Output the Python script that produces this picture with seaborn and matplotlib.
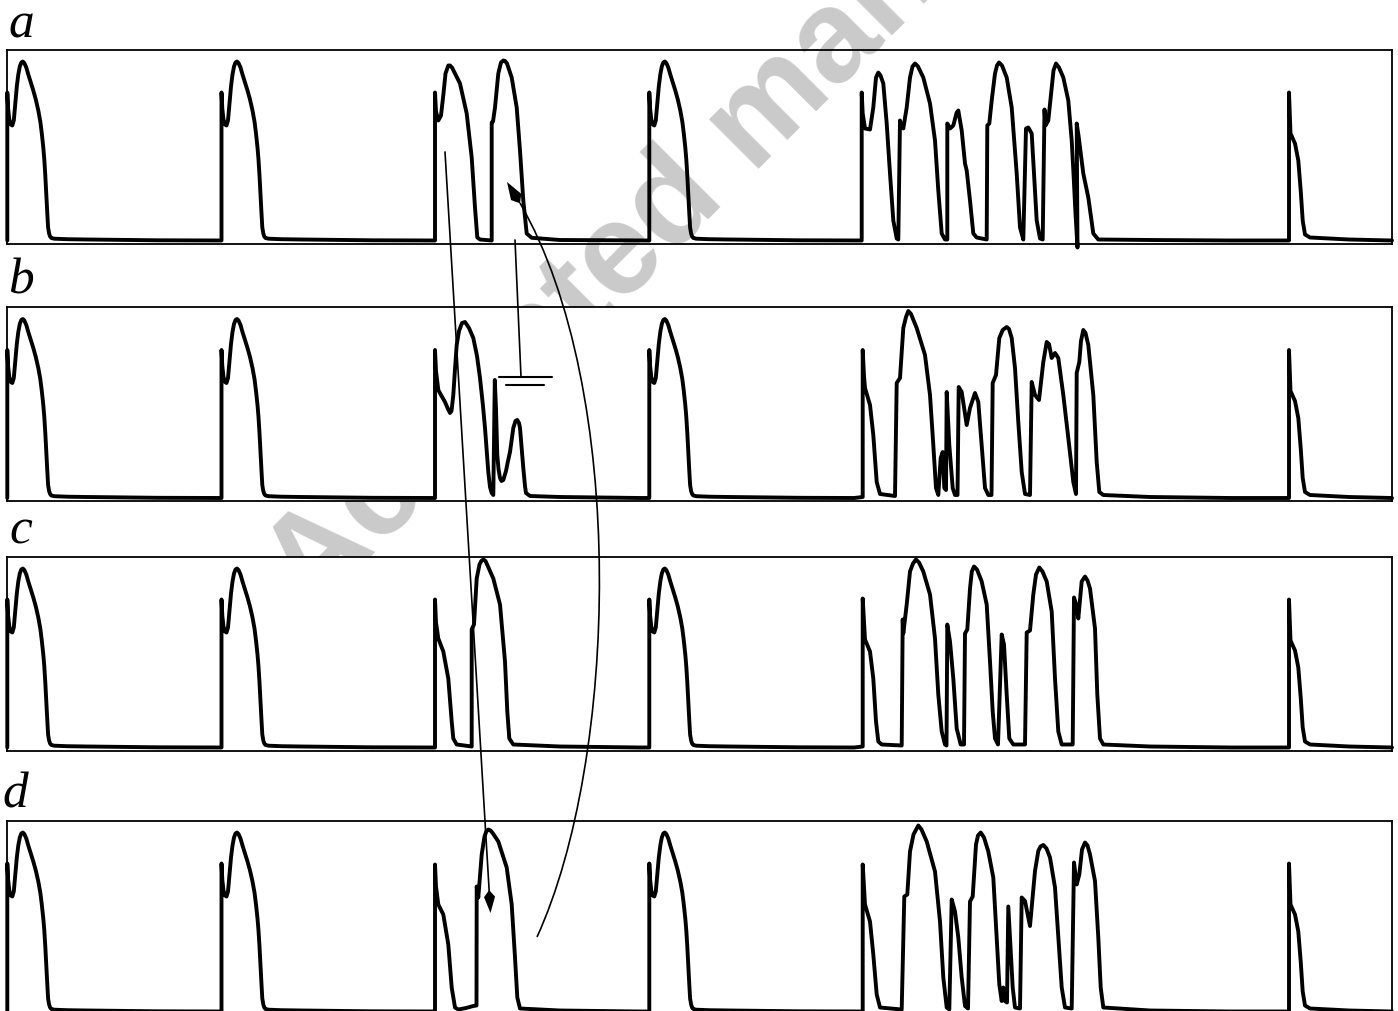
import numpy as np
import pandas as pd
import matplotlib
matplotlib.use("Agg")
import matplotlib.pyplot as plt
from matplotlib.path import Path
from matplotlib.patches import PathPatch, Polygon, Rectangle
import seaborn as sns

# ---------------------------------------------------------------------------
# Recorded traces (time in display units, potential in display units above
# the panel floor).  Regular paced beats share one waveform; the premature /
# re-entrant episodes are listed point by point for every panel.
# ---------------------------------------------------------------------------

# regular paced action potential: offsets from the stimulus and values
normal_dt = [0, 0, 0.8, 2, 3.5, 5, 6.5, 8, 9.5, 11, 12.5, 14, 15.5, 17, 19,
             21, 23.5, 26, 28.5, 31, 33, 34.5, 36, 37, 38, 39, 40, 40.8,
             41.8, 42.8, 44, 47, 60, 80, 150, 205]
normal_v = [3, 151, 135, 124, 119, 118, 123, 140, 157, 169, 177, 181, 182,
            180.5, 176, 169, 161, 153, 144, 133, 122, 110, 96, 84, 68, 48,
            30, 16, 10, 7, 5.5, 4.8, 4.3, 4, 3.2, 3]

# last stimulus: only a short, failed response
short_dt = [0, 0, 1.5, 6, 9.3, 11.7, 13.7, 16, 21, 60, 103]
short_v = [3, 151, 110, 100, 83, 53, 23, 9, 6, 4, 3]

paced_onsets = [7.3, 221.5, 649.3]
last_onset = 1289

# panel a
a_ep1_t = [435, 435, 436, 438.3, 441, 443.5, 445.5, 448.3, 450, 452, 455,
           460, 466.7, 471.7, 475, 477.3, 480, 491.7, 491.7, 493, 495, 498.3,
           501, 503.3, 505, 507, 511.7, 516.7, 520, 523.3, 526.7, 531.7, 560,
           640]
a_ep1_v = [3, 151, 132, 123, 128, 150, 170, 178, 178, 176, 170, 160, 130, 86,
           36, 6, 4, 3, 121, 122, 136, 170, 181, 183, 182.5, 180, 166, 136,
           93, 43, 10, 5.7, 3.5, 3]
a_ep2_t = [861.7, 861.7, 862.7, 865, 870, 873.3, 876, 878.3, 880.5, 883.3,
           886.7, 890, 893.3, 896.7, 898.3, 900, 901.2, 903.3, 906.7, 910,
           912.5, 915, 918, 923.3, 930, 935, 938.3, 941.7, 945, 947.3, 947.3,
           950, 953.3, 956.7, 958.3, 961.7, 965, 966.7, 970, 973.3, 976.7,
           986.7, 987.3, 989.3, 991.7, 995, 997, 999, 1002, 1006.7, 1011.7,
           1016.7, 1020, 1023.3, 1026, 1028.3, 1031.7, 1034, 1036.7, 1040,
           1042.7, 1044.5, 1045.5, 1048.3, 1051.7, 1053.5, 1056, 1059,
           1063.3, 1068.3, 1071.7, 1073.5, 1075.5, 1077.5, 1076.7, 1078.5,
           1081, 1083.3, 1088.3, 1093.3, 1098.3, 1150, 1230]
a_ep2_v = [3, 151, 130, 115, 114, 136, 166, 171, 168, 160, 120, 70, 23, 5, 4,
           123, 118, 115, 136, 166, 177, 180, 177, 166, 140, 103, 53, 10, 4,
           4, 120, 115, 118, 131, 133, 113, 80, 73, 43, 10, 6, 4, 118, 120,
           143, 170, 178, 181, 178, 166, 136, 70, 16, 4, 115, 116, 110, 70,
           23, 5, 4, 134, 118, 123, 156, 173, 180, 176, 166, 143, 103, 70, 30,
           -4, 120, 108, 88, 70, 46, 10, 4, 3.5, 3]

# panel b
b_ep1_t = [435, 435, 436, 438.3, 441, 445, 448, 450, 451.5, 453.3, 455,
           456.7, 459, 462, 465, 469, 473.3, 477, 480, 483, 485, 488.3, 490,
           491.7, 493.3, 494.8, 496, 497.3, 498.5, 500, 501.5, 503.3, 506,
           508, 510, 513.3, 515.5, 517.3, 519, 520, 521.5, 523.3, 525, 526,
           530, 560, 640]
b_ep1_v = [3, 151, 130, 111, 106, 99, 92, 88, 90, 106, 132, 156, 170, 178,
           179, 173, 163, 145, 123, 95, 73, 29, 14, 8, 6, 121, 92, 46, 32, 23,
           20, 21, 30, 40, 49, 73, 80, 81, 78, 73, 55, 33, 15, 8, 5, 4, 3]
b_ep2_t = [862.7, 862.7, 864, 865, 870, 873.3, 876.7, 880, 895, 896.7, 900,
           903.3, 906, 908.3, 911, 916.7, 925, 930, 933.3, 936, 938.3, 940.7,
           942.7, 944.3, 946, 946.7, 949.3, 952.7, 955, 957.5, 958.7, 961.7,
           966.7, 970, 975, 978.3, 981.7, 985, 988.3, 991.5, 992.7, 996,
           999.3, 1002.7, 1006.7, 1009, 1011.7, 1015, 1018.3, 1021.7, 1025,
           1030, 1031.7, 1035, 1039, 1043.3, 1046.7, 1049, 1051.7, 1055,
           1058.3, 1063.3, 1068.3, 1073.3, 1076, 1076.7, 1079.3, 1081,
           1083.3, 1085.5, 1088.3, 1093.3, 1096.7, 1099.3, 1103.3, 1150,
           1230]
b_ep2_v = [4, 151, 125, 113, 96, 66, 19, 7, 5, 118, 123, 173, 184, 190, 187,
           173, 146, 106, 56, 13, 6, 43, 49, 13, 11, 109, 56, 13, 6, 6, 114,
           109, 76, 93, 108, 99, 56, 13, 6, 6, 118, 126, 163, 171, 174, 172,
           163, 133, 79, 29, 7, 6, 119, 106, 101, 139, 159, 157, 143, 148,
           143, 106, 63, 19, 7, 128, 139, 160, 171, 168, 156, 106, 39, 9, 6,
           4, 3]

# panel c
c_ep1_t = [435, 435, 436, 438.3, 443.3, 448.3, 451.7, 453.3, 456.7, 471.7,
           471.7, 474, 476.7, 479.5, 481.3, 483.3, 485.5, 488, 493.3, 500,
           505, 507.3, 509.3, 513.3, 560, 640]
c_ep1_v = [3, 151, 128, 112, 99, 72, 29, 12, 6, 4, 121, 126, 172, 186, 189.5,
           191, 189.5, 184, 172, 146, 89, 39, 12, 6, 4, 3]
c_ep2_t = [862.7, 862.7, 864, 865, 870, 873.3, 876, 878.3, 881.7, 901.7,
           902.7, 903.3, 906.7, 910, 913, 916, 919, 923.3, 930, 935, 938.3,
           941.7, 945, 946.5, 947.3, 950, 953.3, 956.7, 960.7, 964, 965,
           967.3, 970, 971.8, 974, 977, 981.7, 986.7, 990, 992.7, 995, 998,
           1001.7, 1004, 1006.7, 1009.3, 1013.3, 1025, 1026.7, 1030, 1033.3,
           1036, 1039.3, 1042.5, 1046.7, 1051.7, 1055, 1058.3, 1061.7,
           1072.7, 1074, 1076.5, 1078.3, 1081.7, 1085, 1087.5, 1090, 1095,
           1097.3, 1100, 1103.3, 1150, 1230]
c_ep2_v = [4, 152, 128, 111, 99, 72, 29, 9, 6, 5, 131, 117, 146, 179, 187,
           191, 188, 179, 156, 112, 56, 19, 6, 5, 126, 109, 72, 22, 6, 6, 117,
           121, 162, 179, 184, 181, 169, 146, 89, 39, 12, 6, 116, 106, 56, 12,
           6, 6, 118, 120, 156, 176, 183, 179, 169, 139, 72, 19, 6, 6, 153,
           145, 132, 169, 174, 170, 162, 122, 56, 12, 6, 4, 3]

# panel d
d_ep1_t = [435, 435, 436, 438.3, 443.3, 448.3, 451.7, 455, 458.3, 466,
           473.3, 476.5, 476.7, 478.3, 481.7, 484.5, 486.3, 488.3, 490.5, 493,
           498.3, 506.7, 511.7, 515, 517.3, 520, 560, 640]
d_ep1_v = [3, 150, 128, 110, 100, 70, 27, 7, 5, 6.5, 8.5, 9, 128, 117, 160,
           178, 183, 185, 184, 181, 173, 147, 110, 57, 17, 6, 4, 3]
d_ep2_t = [862.7, 862.7, 864, 865, 870, 873.3, 876.7, 880, 901.7, 904.3,
           907.3, 910, 913.5, 918.3, 921.5, 926.7, 935, 940, 943.3, 946.7,
           949.3, 951.7, 955, 958.3, 961.7, 965, 968, 970, 972.7, 976, 978,
           980.7, 984, 988.3, 993.3, 996.7, 999.3, 1001.7, 1003.3, 1005, 1007,
           1008.3, 1010, 1012.7, 1015, 1020, 1021.7, 1025, 1030, 1035, 1038.3,
           1040.5, 1043.3, 1046.5, 1050, 1055, 1058.3, 1061.7, 1065, 1071.7,
           1074, 1076.7, 1079.3, 1082, 1085, 1087.5, 1090, 1095, 1098.3,
           1100.7, 1103.3, 1150, 1230]
d_ep2_v = [3, 150, 128, 110, 93, 60, 20, 7, 5, 118, 120, 163, 180, 189, 185,
           173, 143, 93, 37, 7, 5, 115, 103, 77, 37, 8.5, 6, 113, 118, 170,
           179, 182, 177, 163, 137, 77, 30, 13.5, 27, 13.5, 12, 108, 77, 27,
           7, 6, 117, 113.5, 88.5, 143.5, 163.5, 168, 169.5, 166, 157, 127,
           77, 27, 7, 6, 152, 130, 140, 165, 172, 169, 160, 133.5, 77, 27, 7,
           4, 3]

panel_labels = ["a", "b", "c", "d"]
episodes = {
    "a": ((a_ep1_t, a_ep1_v), (a_ep2_t, a_ep2_v)),
    "b": ((b_ep1_t, b_ep1_v), (b_ep2_t, b_ep2_v)),
    "c": ((c_ep1_t, c_ep1_v), (c_ep2_t, c_ep2_v)),
    "d": ((d_ep1_t, d_ep1_v), (d_ep2_t, d_ep2_v)),
}

# ---------------------------------------------------------------------------
# layout (pixel geometry of the 1398 x 1011 canvas)
# ---------------------------------------------------------------------------
W, H = 1398, 1011
T_START, T_END = 6.5, 1391.7
panel_rows = {"a": (50.0, 243.5), "b": (306.7, 501.0),
              "c": (556.7, 750.5), "d": (820.5, 1014.5)}
label_pos = {"a": (8, 37), "b": (8, 293), "c": (9, 543), "d": (2, 807)}


def beat(dt, v, onset):
    return [onset + d for d in dt], list(v)


def assemble(label):
    ep1, ep2 = episodes[label]
    pieces = [beat(normal_dt, normal_v, paced_onsets[0]),
              beat(normal_dt, normal_v, paced_onsets[1]),
              ep1,
              beat(normal_dt, normal_v, paced_onsets[2]),
              ep2,
              beat(short_dt, short_v, last_onset)]
    t, v = [], []
    for pt, pv in pieces:
        t += list(pt)
        v += list(pv)
    return pd.DataFrame({"t": t, "v": v})


def fig_rect(x0, y0, x1, y1):
    return [x0 / W, 1 - y1 / H, (x1 - x0) / W, (y1 - y0) / H]


sns.set_style("white")
fig = plt.figure(figsize=(W / 100, H / 100), dpi=100)
fig.patch.set_facecolor("white")

# faint diagonal stamp: shows above panel b and in the b/c gap only
wm_x, wm_y = 312, 616
stamp_bands = [(0, 306.7), (501.0, 556.7)]
for top, bottom in stamp_bands:
    band = Rectangle((0, 1 - bottom / H), 1, (bottom - top) / H,
                     transform=fig.transFigure, facecolor="none",
                     edgecolor="none")
    stamp = fig.text(wm_x / W, 1 - wm_y / H, "Accepted manuscript",
                     fontsize=94, fontweight="bold",
                     family=["Liberation Sans", "DejaVu Sans"],
                     color="#cacaca", rotation=45, rotation_mode="anchor",
                     ha="left", va="baseline", zorder=-2)
    stamp.set_clip_path(band)

for label in panel_labels:
    y0, y1 = panel_rows[label]
    ax = fig.add_axes(fig_rect(T_START, y0, T_END, y1), zorder=1)
    ax.set_facecolor("none" if label == "a" else "white")
    df = assemble(label)
    sns.lineplot(data=df, x="t", y="v", ax=ax, sort=False, estimator=None,
                 color="black", linewidth=2.8, clip_on=False,
                 solid_joinstyle="round")
    ax.set_xlim(T_START, T_END)
    ax.set_ylim(0, y1 - y0)
    ax.set_xticks([])
    ax.set_yticks([])
    ax.set_xlabel("")
    ax.set_ylabel("")
    for sp in ax.spines.values():
        sp.set_visible(True)
        sp.set_color("black")
        sp.set_linewidth(1.3)
    lx, ly = label_pos[label]
    fig.text(lx / W, 1 - ly / H, label, fontsize=37, fontstyle="italic",
             family=["Liberation Serif", "DejaVu Serif"], color="black",
             ha="left", va="baseline")

# ---------------------------------------------------------------------------
# annotation overlay: straight arrow, curved arrow and ground symbol
# ---------------------------------------------------------------------------
ov = fig.add_axes([0, 0, 1, 1], zorder=5)
ov.set_xlim(0, W)
ov.set_ylim(H, 0)
ov.axis("off")
ov.patch.set_alpha(0)


def kite(tip, back, length, width, waist=0.7):
    tip = np.asarray(tip, float)
    d = np.asarray(back, float)
    d = d / np.hypot(*d)
    n = np.array([-d[1], d[0]])
    return [tip, tip + d * length * waist + n * width, tip + d * length,
            tip + d * length * waist - n * width]


straight_start = (445, 152)
straight_tip = (490.5, 913)
ov.plot([straight_start[0], straight_tip[0] - 1.2],
        [straight_start[1], straight_tip[1] - 20], color="black", lw=1.2)
ov.add_patch(Polygon(kite(straight_tip, (-0.06, -1.0), 23, 5.5),
                     closed=True, color="black", lw=0))

curve_pts = [(537, 937), (618, 760), (628, 390), (520, 203)]
ov.add_patch(PathPatch(Path(curve_pts, [Path.MOVETO, Path.CURVE4,
                                        Path.CURVE4, Path.CURVE4]),
                       fill=False, edgecolor="black", lw=1.2))
curve_tip = (507, 182)
ov.add_patch(Polygon(kite(curve_tip, (0.52, 0.85), 25, 6),
                     closed=True, color="black", lw=0))

ground_stem = ([515, 521], [240, 377])
ov.plot(*ground_stem, color="black", lw=1.2)
ov.plot([499, 552], [377, 377], color="black", lw=1.5)
ov.plot([506, 544], [385, 385], color="black", lw=1.5)

fig.savefig("out.png", dpi=100)
